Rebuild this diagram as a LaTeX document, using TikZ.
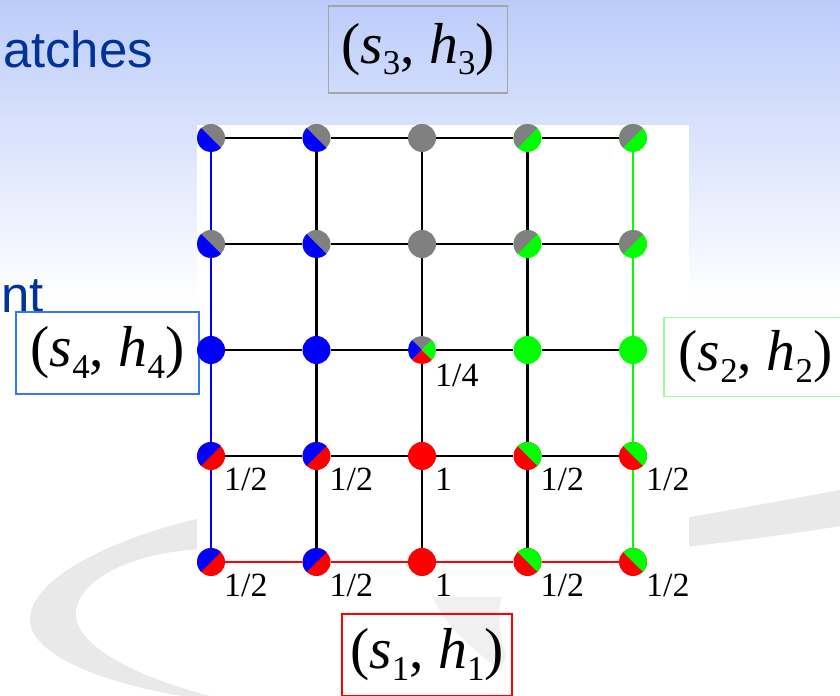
\documentclass[tikz,border=0pt]{standalone}
\usepackage{fontspec}
\setmainfont{Liberation Serif}
\newfontfamily\slidefont{Liberation Sans}
\usetikzlibrary{positioning,calc}

\definecolor{slidetop}{RGB}{188,204,250}
\definecolor{slideblue}{RGB}{0,51,153}
\definecolor{swoosh}{RGB}{233,233,233}
\definecolor{boxgrey}{RGB}{165,165,165}
\definecolor{boxblue}{RGB}{51,119,255}
\definecolor{boxgreen}{RGB}{150,255,150}

\newcommand{\lowsub}[1]{\raisebox{-0.2em}{\fontsize{35}{35}\selectfont #1}}
\newcommand{\pairtxt}[1]{(\textit{s}\lowsub{#1}, \textit{h}\lowsub{#1})}
% node, start angle, first colour, second colour
\newcommand{\halfdot}[4]{%
  \fill[#4] (#1.center) circle[radius=14bp];
  \fill[#3] (#1.center) ++(#2:14bp) arc[start angle=#2, delta angle=180, radius=14bp] -- cycle;}

\tikzset{
  dot/.style={circle, inner sep=0pt, minimum size=28bp},
  edge/.style={line width=2.5bp},
  frac/.style={inner sep=0pt, font=\fontsize{34}{38}\selectfont},
  pairbox/.style={draw, line width=1.5bp, inner xsep=8bp, font=\fontsize{58}{64}\selectfont},
  slidetxt/.style={inner sep=0pt, text=slideblue, font=\slidefont\fontsize{51}{60}\selectfont}
}

\begin{document}
\begin{tikzpicture}[x=1bp, y=1bp]
  \useasboundingbox (0,0) rectangle (840,696);
  \clip (0,0) rectangle (840,696);
  % slide background
  \fill[white] (0,0) rectangle (840,696);
  \shade[top color=slidetop, bottom color=white] (0,396) rectangle (840,696);
  \fill[swoosh] (205,179) .. controls (120,160) and (30,120) .. (30,76)
    .. controls (30,40) and (110,10) .. (195,-2) -- (210,0)
    .. controls (125,22) and (72,55) .. (76,85)
    .. controls (80,120) and (140,145) .. (205,147) -- cycle;
  \fill[swoosh] (600,164) .. controls (700,180) and (780,195) .. (840,206)
    -- (840,170) .. controls (780,160) and (700,150) .. (600,140) -- cycle;
  \fill[swoosh!70!white] (433,99) .. controls (445,70) and (470,50) .. (500,25)
    -- (506,40) .. controls (500,60) and (496,80) .. (502,99) -- cycle;
  \node[slidetxt, anchor=base east] (title) at (153,628) {atches};
  \node[slidetxt, anchor=base east] (item) at (44,383) {nt};
  \fill[white] (197,99) rectangle (689,571);

  % grid
  \foreach \c in {0,...,4}
    \foreach \r in {0,...,4}
      \node[dot] (g\c\r) at ({211+105.5*\c},{134+106*\r}) {};
  \foreach \r in {0,...,4} {
    \foreach \c in {0,...,3} {
      \pgfmathtruncatemacro\nxt{\c+1}
      \ifnum\r=0
        \draw[edge, red, line width=2bp] (g\c\r) -- (g\nxt\r);
      \else
        \draw[edge] (g\c\r) -- (g\nxt\r);
      \fi
    }
  }
  \foreach \r in {0,...,3} {
    \pgfmathtruncatemacro\nxt{\r+1}
    \foreach \c in {1,2,3}
      \draw[edge] (g\c\r) -- (g\c\nxt);
    \draw[edge, blue, line width=2bp] (g0\r) -- (g0\nxt);
    \draw[edge, green] (g4\r) -- (g4\nxt);
  }

  % players
  \node[pairbox, draw=red, minimum width=170bp, minimum height=82bp, below=37bp of g20, xshift=5bp] (sh1) {\pairtxt{1}};
  \node[pairbox, draw=boxgreen, minimum width=183bp, minimum height=79bp, right=16bp of g42, yshift=-7bp] (sh2) {\pairtxt{2}};
  \node[pairbox, draw=boxgrey, minimum width=179bp, minimum height=87bp, above=30bp of g24, xshift=-4bp] (sh3) {\pairtxt{3}};
  \node[pairbox, draw=boxblue, minimum width=183bp, minimum height=82bp, left=-3bp of g02, yshift=-3bp] (sh4) {\pairtxt{4}};

  % dots
  \foreach \c/\r in {0/0,1/0,0/1,1/1} {\halfdot{g\c\r}{45}{blue}{red}}
  \foreach \c/\r in {3/0,4/0,3/1,4/1} {\halfdot{g\c\r}{-45}{green}{red}}
  \foreach \c/\r in {0/3,1/3,0/4,1/4} {\halfdot{g\c\r}{135}{blue}{gray}}
  \foreach \c/\r in {3/3,4/3,3/4,4/4} {\halfdot{g\c\r}{45}{gray}{green}}
  \foreach \n/\col in {g20/red,g21/red,g23/gray,g24/gray,g02/blue,g12/blue,g32/green,g42/green}
    \fill[\col] (\n.center) circle[radius=14bp];
  \foreach \a/\col in {45/gray,135/blue,225/red,315/green}
    \fill[\col] (g22.center) -- ++(\a:14bp) arc[start angle=\a, delta angle=90, radius=14bp] -- cycle;

  % shares
  \foreach \r in {0,1}
    \foreach \c/\t in {0/{1/2},1/{1/2},2/1,3/{1/2},4/{1/2}}
      \node[frac, anchor=base west] (f\c\r) at ([shift={(13bp,-35bp)}]g\c\r.center) {\t};
  \node[frac, anchor=base west] (f22) at ([shift={(13bp,-37bp)}]g22.center) {1/4};
\end{tikzpicture}
\end{document}
